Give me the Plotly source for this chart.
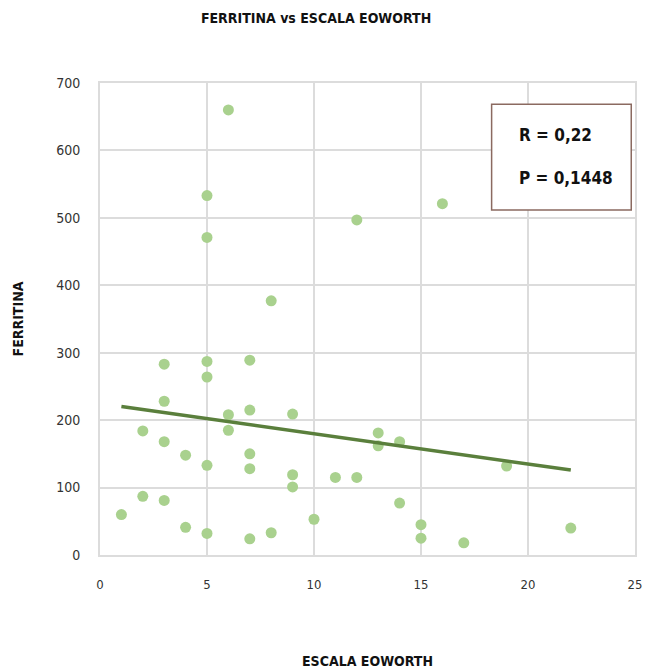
import numpy as np
import plotly.graph_objects as go

# EOWORTH scale score and ferritin value per patient
escala = [6, 5, 5, 12, 8, 16, 3, 5, 5, 7, 3, 6, 7, 9, 2, 6, 3, 4, 7, 5, 7,
          9, 9, 11, 12, 2, 3, 1, 4, 5, 7, 8, 10, 13, 13, 14, 19, 14, 15, 15, 17, 22]
ferritina = [660, 533, 471, 497, 377, 521, 283, 287, 264, 289, 228, 208, 215, 209,
             184, 185, 168, 148, 150, 133, 128, 119, 101, 115, 115, 87, 81, 60,
             41, 32, 24, 33, 53, 181, 162, 168, 132, 77, 45, 25, 18, 40]

x_ticks = [0, 5, 10, 15, 20, 25]
y_ticks = [0, 100, 200, 300, 400, 500, 600, 700]
stats_lines = ["R = 0,22", "P = 0,1448"]

# least-squares trend line over the observed range
slope, intercept = np.polyfit(escala, ferritina, 1)
x_fit = np.array([min(escala), max(escala)])
y_fit = slope * x_fit + intercept

COND = "DejaVu Sans Condensed, Liberation Sans Narrow, sans-serif"

fig = go.Figure()
fig.add_trace(go.Scatter(
    x=escala, y=ferritina, mode="markers",
    marker=dict(size=11, color="#a9d18e", line=dict(width=0)),
    showlegend=False,
))
fig.add_trace(go.Scatter(
    x=x_fit, y=y_fit, mode="lines",
    line=dict(color="#5a7f3c", width=3.5),
    showlegend=False,
))

fig.update_layout(
    width=645, height=670,
    margin=dict(l=100, r=10, t=83, b=115),
    paper_bgcolor="white", plot_bgcolor="white",
    title=dict(text="<b>FERRITINA vs ESCALA EOWORTH</b>",
               x=0.49, xanchor="center", y=1 - 18 / 670, yanchor="middle",
               yref="container",
               font=dict(family=COND, size=14, color="#111111")),
    xaxis=dict(range=[0, 25], tickvals=x_ticks, showgrid=True, automargin=False,
               gridcolor="#dcdcdc", gridwidth=2, zeroline=False,
               showline=True, linecolor="#dcdcdc", linewidth=2, mirror=True,
               ticks="", ticklabelstandoff=16,
               tickfont=dict(family=COND, size=13, color="#333333"),
               title=dict(text="<b>ESCALA EOWORTH</b>", standoff=66,
                          font=dict(family=COND, size=14, color="#111111"))),
    yaxis=dict(range=[0, 700], tickvals=y_ticks, showgrid=True, automargin=False,
               gridcolor="#dcdcdc", gridwidth=2, zeroline=False,
               showline=True, linecolor="#dcdcdc", linewidth=2, mirror=True,
               ticks="", ticklabelstandoff=15,
               tickfont=dict(family=COND, size=14, color="#333333"),
               title=dict(text="<b>FERRITINA</b>", standoff=29,
                          font=dict(family=COND, size=14, color="#111111"))),
)

# statistics box in the upper-right corner
fig.add_shape(type="rect", xref="paper", yref="paper",
              x0=0.732, x1=0.993, y0=0.731, y1=0.955,
              fillcolor="white", line=dict(color="#8b6a60", width=1.5), layer="above")
for yy, txt in zip([0.89, 0.799], stats_lines):
    fig.add_annotation(xref="paper", yref="paper", x=0.78, y=yy,
                       xanchor="left", yanchor="middle", showarrow=False,
                       text=f"<b>{txt}</b>",
                       font=dict(family=COND, size=17, color="#111111"))

fig.write_html("out.html")
